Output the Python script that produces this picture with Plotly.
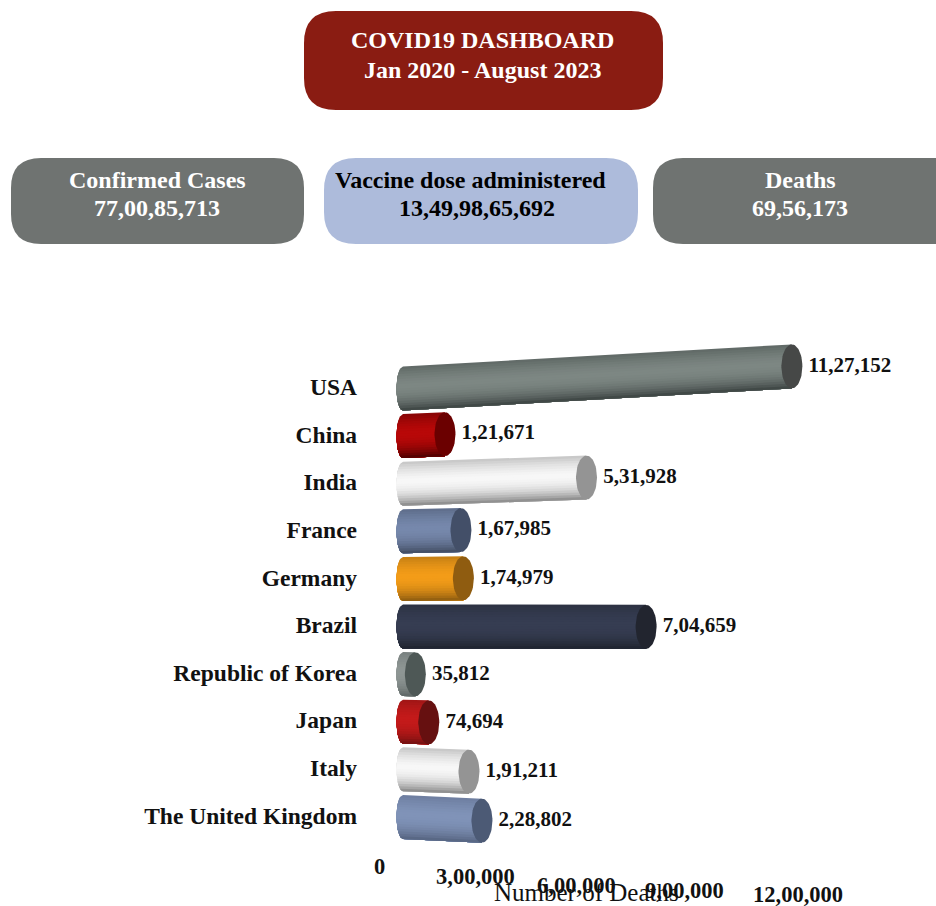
import numpy as np
import plotly.graph_objects as go

# Deaths by country
countries = ["USA", "China", "India", "France", "Germany", "Brazil",
             "Republic of Korea", "Japan", "Italy", "The United Kingdom"]
deaths = [1127152, 121671, 531928, 167985, 174979, 704659, 35812, 74694, 191211, 228802]

# Highlight, shadow and end-cap colours per cylinder
body_colors = ["#7d8783", "#b80808", "#f7f7f7", "#7688ac", "#f39c18",
               "#363d52", "#8e9694", "#c41a1a", "#f7f7f7", "#8093b8"]
shadow_colors = ["#3a4240", "#4a0000", "#858585", "#3f4a5f", "#8a5a10",
                 "#1f232e", "#5e6665", "#701010", "#858585", "#55637f"]
cap_colors = ["#464847", "#6b0000", "#949494", "#434f68", "#8f5c10",
              "#22252f", "#4e5856", "#661010", "#949494", "#4c5a75"]

x_ticks = [0, 300000, 600000, 900000, 1200000]

# Summary cards
title_lines = ["COVID19 DASHBOARD", "Jan 2020 - August 2023"]
card_titles = ["Confirmed Cases", "Vaccine dose administered", "Deaths"]
card_values = ["77,00,85,713", "13,49,98,65,692", "69,56,173"]

W, H = 936, 906
SERIF = "Liberation Serif"
ML, MT, MB = 358, 330, 46          # plot area margins
PX_PER_UNIT = 345e-6               # horizontal pixels per death
ZERO_PX = 403                      # pixel column of the zero baseline
ROW0_PX, ROW_PX = 387, 47.6        # first row centre and row pitch
BAR_DROP = 1.5 / ROW_PX            # cylinders sit slightly below their row label
HALF_H = 22 / ROW_PX               # cylinder radius in row units
CAP_A = 10.5 / PX_PER_UNIT         # end-cap half width in data units
BASE_A = 6.5 / PX_PER_UNIT         # half width of the rounded base
N_STRIPS = 18


def paper_x(px):
    return (px - ML) / (W - ML)


def paper_y(py):
    return 1 - (py - MT) / (H - MT - MB)


def indian_format(n):
    s = str(n)
    if len(s) <= 3:
        return s
    head, tail = s[:-3], s[-3:]
    parts = []
    while len(head) > 2:
        parts.insert(0, head[-2:])
        head = head[:-2]
    if head:
        parts.insert(0, head)
    return ",".join(parts + [tail])


def mix(c1, c2, f):
    a = [int(c1[i:i + 2], 16) for i in (1, 3, 5)]
    b = [int(c2[i:i + 2], 16) for i in (1, 3, 5)]
    return "rgb(%d,%d,%d)" % tuple(round(p + (q - p) * f) for p, q in zip(a, b))


def shade(t):
    # Cylinder lighting: bright just above the middle, darkest along the lower edge
    if t < -0.15:
        return 0.45 * ((-0.15 - t) / 0.85) ** 1.5
    return ((t + 0.15) / 1.15) ** 2.2


def tilt(row):
    # Row-dependent slope (rows per death) from the receding 3-D floor
    return (row - 4.9) * 4.0 / ROW_PX / 1e6


fig = go.Figure()

for i, value in enumerate(deaths):
    m = tilt(i)
    c = i + BAR_DROP
    edges = np.linspace(-1, 1, N_STRIPS + 1)[:-1]
    for t in edges:
        # Each strip runs to the lower edge, so later strips paint over any seam
        ts = np.linspace(t, 1, 24)
        arc_x = -BASE_A * np.sqrt(np.clip(1 - ts ** 2, 0, 1))
        arc_y = c + m * arc_x + ts * HALF_H
        xs = [value, value] + list(arc_x[::-1]) + list(arc_x[:1])
        ys = [c + m * value + t * HALF_H, c + m * value + HALF_H] + list(arc_y[::-1]) + list(arc_y[:1])
        fig.add_trace(go.Scatter(
            x=xs, y=ys, mode="lines", fill="toself", line=dict(width=0),
            fillcolor=mix(body_colors[i], shadow_colors[i], shade(t + 1 / N_STRIPS)),
            hoverinfo="skip", showlegend=False))
    a = np.linspace(0, 2 * np.pi, 60)
    cap_x = value + CAP_A * np.cos(a)
    fig.add_trace(go.Scatter(
        x=cap_x, y=c + m * value + HALF_H * np.sin(a), mode="lines", fill="toself",
        line=dict(width=0), fillcolor=cap_colors[i], hoverinfo="skip", showlegend=False))

# Value labels sit just past each end cap
rows = list(range(len(countries)))
fig.add_trace(go.Scatter(
    x=deaths, y=[r + BAR_DROP + tilt(r) * v for r, v in zip(rows, deaths)],
    mode="markers+text", marker=dict(size=25, opacity=0),
    text=[indian_format(v) for v in deaths], textposition="middle right",
    textfont=dict(family=SERIF, size=21, color="#111111", weight=700),
    customdata=countries, hovertemplate="%{customdata}: %{text}<extra></extra>",
    showlegend=False, cliponaxis=False))


def px_note(text, x, y, size, color, bold=True):
    fig.add_annotation(
        text=text, x=paper_x(x), y=paper_y(y), xref="paper", yref="paper", showarrow=False,
        xanchor="center", yanchor="middle",
        font=dict(family=SERIF, size=size, color=color, weight=700 if bold else 400))


def add_card(x0, y0, x1, y1, r, color):
    X = paper_x
    Y = paper_y
    path = (f"M{X(x0 + r)},{Y(y0)} L{X(x1 - r)},{Y(y0)} Q{X(x1)},{Y(y0)} {X(x1)},{Y(y0 + r)} "
            f"L{X(x1)},{Y(y1 - r)} Q{X(x1)},{Y(y1)} {X(x1 - r)},{Y(y1)} L{X(x0 + r)},{Y(y1)} "
            f"Q{X(x0)},{Y(y1)} {X(x0)},{Y(y1 - r)} L{X(x0)},{Y(y0 + r)} Q{X(x0)},{Y(y0)} {X(x0 + r)},{Y(y0)} Z")
    fig.add_shape(type="path", xref="paper", yref="paper", layer="below",
                  path=path, fillcolor=color, line=dict(width=0))


add_card(304, 11, 663, 110, 32, "#8a1c12")
add_card(11, 158, 304, 244, 30, "#6f7371")
add_card(324, 158, 638, 244, 32, "#adbbdb")
add_card(653, 158, 966, 244, 30, "#6f7371")

px_note(title_lines[0], 482, 40, 24, "#ffffff")
px_note(title_lines[1], 482, 70, 24, "#ffffff")
px_note(card_titles[0], 157, 180, 24, "#ffffff")
px_note(card_values[0], 157, 208, 24, "#ffffff")
px_note(card_titles[1], 470, 180, 24, "#000000")
px_note(card_values[1], 477, 208, 24, "#000000")
px_note(card_titles[2], 800, 180, 24, "#ffffff")
px_note(card_values[2], 800, 208, 24, "#ffffff")

# Horizontal tick labels follow the receding floor of the 3-D plot
tick_shift = [-24, -31, -34, -29, -19]
tick_y_px = [866, 876, 885, 890, 894]
for v, dx, y in zip(x_ticks, tick_shift, tick_y_px):
    fig.add_annotation(
        text=indian_format(v), x=v, xref="x", xshift=dx, y=paper_y(y), yref="paper",
        showarrow=False, xanchor="center", yanchor="middle",
        font=dict(family=SERIF, size=22.5, color="#111111", weight=700))

px_note("Number of Deaths", 586, 892, 25, "#111111", bold=False)

x_left = -(ZERO_PX - ML) / PX_PER_UNIT
x_right = (W - ZERO_PX) / PX_PER_UNIT
y_top = (MT - ROW0_PX) / ROW_PX
y_bottom = (H - MB - ROW0_PX) / ROW_PX

fig.update_layout(
    width=W, height=H, autosize=False,
    margin=dict(l=ML, r=0, t=MT, b=MB),
    paper_bgcolor="#ffffff", plot_bgcolor="#ffffff",
    showlegend=False,
    xaxis=dict(range=[x_left, x_right], showgrid=False, zeroline=False, showline=False,
               showticklabels=False, ticks=""),
    yaxis=dict(range=[y_bottom, y_top], tickmode="array", tickvals=rows, ticktext=countries,
               showgrid=False, zeroline=False, showline=False, ticks="",
               tickfont=dict(family=SERIF, size=23.5, color="#111111", weight=700)),
)

fig.write_html("out.html", config=dict(displayModeBar=False))
